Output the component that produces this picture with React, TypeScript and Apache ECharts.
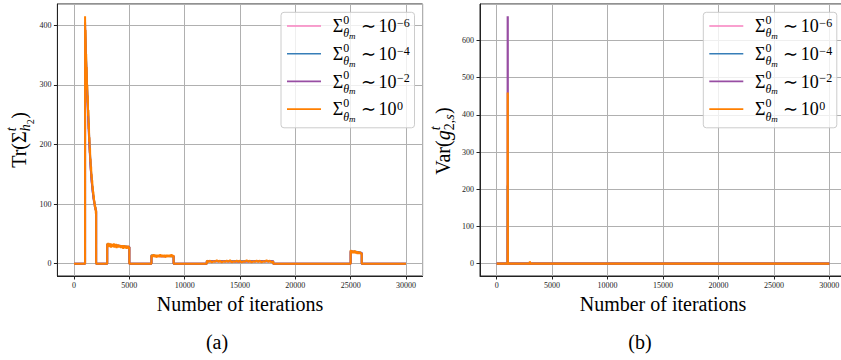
import React, { useEffect, useRef } from 'react';
import * as echarts from 'echarts';

// ---------- data ----------
const xTicks = [0, 5000, 10000, 15000, 20000, 25000, 30000];
const trTicks = [0, 100, 200, 300, 400];
const varTicks = [0, 100, 200, 300, 400, 500, 600];
const lastIter = 30000;

const trSegStart = [1000, 3000, 7000, 12000, 25000];
const trSegEnd = [2000, 5000, 9000, 18000, 26000];

const trOrangeSpike = [415, 368, 392, 345, 352, 318, 330, 292, 300, 270, 282, 248, 258, 226, 236, 204, 212, 186, 194, 170, 176, 156, 163, 144, 150, 134, 140, 124, 130, 116, 121, 108, 114, 101, 106, 95, 100, 90, 95, 84, 90];
const trOrangeP1 = [34, 29, 35, 28, 33, 30, 34, 27, 33, 29, 32, 28, 34, 27, 32, 29, 33, 26, 31, 28, 32, 27, 31, 28, 30, 26, 31, 27, 30, 25, 31, 27, 29, 26, 30, 25, 29, 26, 30, 25, 28];
const trOrangeP2 = [15, 11, 14, 12, 16, 11, 14, 12, 15, 10, 14, 12, 15, 11, 13, 12, 16, 11, 14, 12, 15, 11, 14, 12, 15, 10, 14, 12, 15, 11, 13, 12, 15, 11, 14, 12, 16, 11, 14, 12, 14];
const trOrangeP3 = [5, 3, 5, 2, 4, 3, 6, 3, 5, 2, 4, 3, 5, 3, 6, 2, 4, 3, 5, 3, 5, 2, 4, 3, 6, 3, 5, 2, 4, 3, 5, 3, 5, 2, 4, 3, 6, 3, 5, 2, 4];
const trOrangeP4 = [23, 18, 22, 19, 21, 17, 22, 18, 21, 19, 22, 17, 21, 18, 20, 19, 22, 17, 20, 18, 21, 17, 20, 18, 21, 16, 20, 18, 19, 17, 20, 16, 19, 17, 20, 16, 19, 17, 18, 16, 18];

const trPinkSpike = [380, 335, 285, 240, 198, 165, 138, 120, 106, 96, 88];
const trBlueSpike = [395, 340, 290, 245, 200, 166, 140, 121, 107, 97, 88];
const trPurpleSpike = [405, 330, 280, 235, 195, 162, 137, 119, 105, 95, 87];
const trPinkPlateaus = [[32, 31, 30, 29, 28], [13, 13, 13, 13, 13], [4, 4, 4, 4, 4], [21, 20, 19, 19, 18]];
const trBluePlateaus = [[33, 31, 30, 29, 28], [14, 13, 13, 13, 12], [4, 4, 4, 4, 4], [21, 20, 20, 19, 18]];
const trPurplePlateaus = [[32, 30, 30, 28, 28], [13, 13, 12, 13, 13], [4, 4, 3, 4, 4], [20, 20, 19, 18, 18]];

const varIter = [0, 990, 1000, 1010, 1990, 2000, 2010, 2990, 3000, 3010, 30000];
const varPink = [0, 0, 95, 0, 0, 1, 0, 0, 2, 0, 0];
const varBlue = [0, 0, 210, 0, 0, 1, 0, 0, 2, 0, 0];
const varPurple = [0, 0, 665, 0, 0, 1, 0, 0, 3, 0, 0];
const varOrange = [0, 0, 460, 0, 0, 2, 0, 0, 6, 0, 0];

const legendExponents = ['−6', '−4', '−2', '0'];
const seriesNames = legendExponents.map((e) => `Σ⁰_θm ∼ 10^${e}`);
const colors = ['#f781bf', '#377eb8', '#984ea3', '#ff7f00'];

// ---------- helpers ----------
const FONT = 'Liberation Serif';

function buildTr(segs: number[][]): number[][] {
  const pts: number[][] = [[0, 0]];
  segs.forEach((vals, i) => {
    const s = trSegStart[i];
    const e = trSegEnd[i];
    pts.push([s, 0]);
    const step = (e - s) / (vals.length - 1);
    vals.forEach((v, k) => pts.push([s + k * step, v]));
    pts.push([e, 0]);
  });
  pts.push([lastIter, 0]);
  return pts;
}

function buildVar(vals: number[]): number[][] {
  return varIter.map((x, i) => [x, vals[i]]);
}

type Piece = { t: string; s: number; dy?: number; it?: boolean; hold?: boolean; release?: boolean; gap?: number };

let mctx: CanvasRenderingContext2D | null = null;
function measure(t: string, s: number, it?: boolean): number {
  if (!mctx) mctx = document.createElement('canvas').getContext('2d');
  if (!mctx) return t.length * s * 0.5;
  mctx.font = `${it ? 'italic ' : ''}${s}px "${FONT}"`;
  return mctx.measureText(t).width;
}

function layoutMath(pieces: Piece[], ox: number, oy: number, z = 100) {
  let x = 0;
  let holdX = 0;
  let holdW = 0;
  const items: any[] = [];
  for (const p of pieces) {
    x += p.gap || 0;
    const w = measure(p.t, p.s, p.it);
    items.push({
      type: 'text',
      x: ox + x,
      y: oy + (p.dy || 0) - 0.34 * p.s,
      silent: true,
      z,
      style: {
        text: p.t,
        fontSize: p.s,
        fontFamily: FONT,
        fontStyle: p.it ? 'italic' : 'normal',
        fill: '#000',
        textAlign: 'left',
        textVerticalAlign: 'middle',
      },
    });
    if (p.hold) {
      holdX = x;
      holdW = w;
    } else {
      x += w;
    }
    if (p.release) x = Math.max(x, holdX + holdW);
  }
  return { items, width: x };
}

function legendGraphics(boxLeft: number, boxTop: number) {
  const els: any[] = [
    {
      type: 'rect',
      silent: true,
      z: 90,
      shape: { x: boxLeft, y: boxTop, width: 133.5, height: 115.5, r: 3 },
      style: { fill: 'rgba(255,255,255,0.8)', stroke: '#cccccc', lineWidth: 1 },
    },
  ];
  legendExponents.forEach((ex, i) => {
    const cy = boxTop + 13.7 + 27.7 * i;
    els.push({
      type: 'line',
      silent: true,
      z: 95,
      shape: { x1: boxLeft + 6, y1: cy, x2: boxLeft + 40, y2: cy },
      style: { stroke: colors[i], lineWidth: 1.6 },
    });
    const m = layoutMath(
      [
        { t: 'Σ', s: 18 },
        { t: '0', s: 12, dy: -8.3, hold: true },
        { t: 'θ', s: 12, dy: 5.2, it: true },
        { t: 'm', s: 9, dy: 6.8, it: true, release: true },
        { t: '∼', s: 18, gap: 5.5 },
        { t: '10', s: 18, gap: 2.5 },
        { t: ex, s: 12, dy: -5.3, gap: 0.5 },
      ],
      boxLeft + 51.7,
      cy + 6.3
    );
    els.push(...m.items);
  });
  return els;
}

function yLabel(pieces: Piece[], baseX: number, centerY: number) {
  const m = layoutMath(pieces, 0, 0);
  const children = m.items.map((it: any) => ({ ...it, x: it.x - m.width / 2 }));
  return { type: 'group', x: baseX, y: centerY, rotation: Math.PI / 2, children };
}

// ---------- component ----------
export default function App() {
  const ref = useRef<HTMLDivElement>(null);
  useEffect(() => {
    if (!ref.current) return;
    const chart = echarts.init(ref.current, undefined, { renderer: 'svg' });

    const trData = [
      buildTr([trPinkSpike, ...trPinkPlateaus]),
      buildTr([trBlueSpike, ...trBluePlateaus]),
      buildTr([trPurpleSpike, ...trPurplePlateaus]),
      buildTr([trOrangeSpike, trOrangeP1, trOrangeP2, trOrangeP3, trOrangeP4]),
    ];
    const varData = [buildVar(varPink), buildVar(varBlue), buildVar(varPurple), buildVar(varOrange)];

    const labelStyle = {
      fontSize: 8,
      fontFamily: FONT,
      color: '#222',
      showMinLabel: false,
      showMaxLabel: false,
      formatter: (v: number) => String(v),
    };

    const mkX = (gi: number) => ({
      type: 'value',
      gridIndex: gi,
      min: -1500,
      max: 31500,
      splitNumber: xTicks.length - 1,
      name: 'Number of iterations',
      nameLocation: 'middle',
      nameGap: 14,
      nameTextStyle: { fontSize: 20, fontFamily: FONT, color: '#000' },
      axisLine: { show: true, onZero: false, lineStyle: { color: '#222', width: 1 } },
      splitLine: { show: true, lineStyle: { color: '#b0b0b0', width: 1 } },
      axisTick: { show: true, inside: false, length: 3.5, lineStyle: { color: '#222' } },
      axisLabel: { ...labelStyle, margin: 5 },
    });
    const mkY = (gi: number, min: number, max: number, ticks: number[]) => ({
      type: 'value',
      gridIndex: gi,
      min,
      max,
      splitNumber: ticks.length,
      axisLine: { show: true, onZero: false, lineStyle: { color: '#222', width: 1 } },
      splitLine: { show: true, lineStyle: { color: '#b0b0b0', width: 1 } },
      axisTick: { show: true, inside: false, length: 3.5, lineStyle: { color: '#222' } },
      axisLabel: { ...labelStyle, margin: 6 },
    });

    const series: any[] = [];
    trData.forEach((d, i) =>
      series.push({
        type: 'line',
        name: seriesNames[i],
        xAxisIndex: 0,
        yAxisIndex: 0,
        data: d,
        showSymbol: false,
        symbol: 'none',
        lineStyle: { color: colors[i], width: 2 },
        itemStyle: { color: colors[i] },
        z: 2 + i,
      })
    );
    varData.forEach((d, i) =>
      series.push({
        type: 'line',
        name: seriesNames[i],
        xAxisIndex: 1,
        yAxisIndex: 1,
        data: d,
        showSymbol: false,
        symbol: 'none',
        lineStyle: { color: colors[i], width: 2.2 },
        itemStyle: { color: colors[i] },
        z: 2 + i,
      })
    );

    const graphics: any[] = [
      ...legendGraphics(281, 12.3),
      ...legendGraphics(703.3, 12.3),
      yLabel(
        [
          { t: 'Tr(', s: 20 },
          { t: 'Σ', s: 20 },
          { t: 't', s: 14, dy: -9, it: true, hold: true },
          { t: 'h', s: 14, dy: 5, it: true },
          { t: '2', s: 10, dy: 8, release: true },
          { t: ')', s: 20, gap: 0.5 },
        ],
        25.7,
        140
      ),
      yLabel(
        [
          { t: 'Var(', s: 20 },
          { t: 'g', s: 20, it: true },
          { t: 't', s: 14, dy: -9, it: true, hold: true },
          { t: '2,', s: 14, dy: 5 },
          { t: 's', s: 14, dy: 5, it: true, release: true },
          { t: ')', s: 20, gap: 0.5 },
        ],
        449.7,
        141
      ),
      {
        type: 'text',
        x: 217,
        y: 342,
        silent: true,
        style: { text: '(a)', fontSize: 20, fontFamily: FONT, fill: '#000', textAlign: 'center', textVerticalAlign: 'middle' },
      },
      {
        type: 'text',
        x: 640,
        y: 342,
        silent: true,
        style: { text: '(b)', fontSize: 20, fontFamily: FONT, fill: '#000', textAlign: 'center', textVerticalAlign: 'middle' },
      },
    ];

    chart.setOption({
      animation: false,
      backgroundColor: '#ffffff',
      grid: [
        { left: 57.4, top: 4, width: 365.2, height: 272, show: true, borderColor: '#222', borderWidth: 1, backgroundColor: 'transparent', containLabel: false, outerBoundsMode: 'none' },
        { left: 480, top: 4, width: 366, height: 272, show: true, borderColor: '#222', borderWidth: 1, backgroundColor: 'transparent', containLabel: false, outerBoundsMode: 'none' },
      ],
      xAxis: [mkX(0), mkX(1)],
      yAxis: [mkY(0, -20.75, 435.75, trTicks), mkY(1, -33.25, 698.25, varTicks)],
      series,
      graphic: graphics,
    } as any);

    return () => chart.dispose();
  }, []);

  return (
    <div
      ref={ref}
      style={{ position: 'absolute', left: 0, top: 0, width: 841, height: 360, background: '#fff' }}
    />
  );
}
